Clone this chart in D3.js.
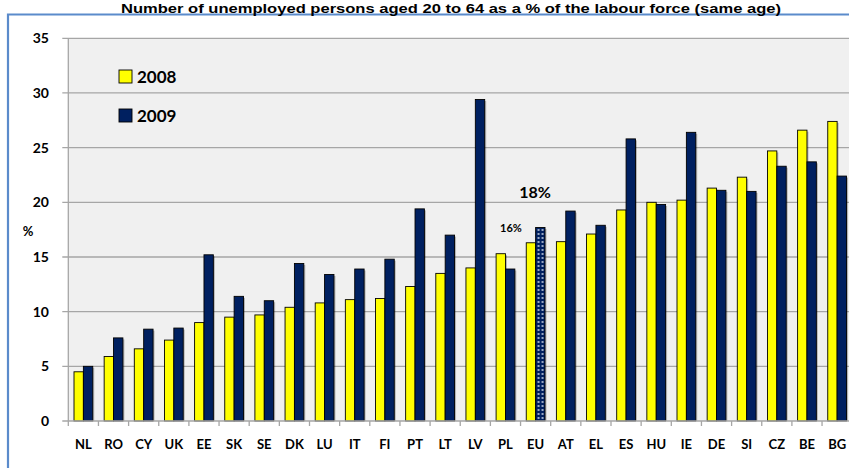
<!DOCTYPE html>
<html lang="en">
<head>
<meta charset="utf-8">
<title>Unemployment 20-64</title>
<style>
  body { margin: 0; background: #fff; }
  text { font-family: Lato, "Open Sans", sans-serif; font-weight: bold; fill: #000; }
  .title { font-family: "Liberation Sans", Arial, sans-serif; }
</style>
</head>
<body>
<div id="chart"></div>
<script src="https://cdn.jsdelivr.net/npm/d3@7"></script>
<script>
// data
var countries = ["NL","RO","CY","UK","EE","SK","SE","DK","LU","IT","FI","PT","LT","LV","PL","EU","AT","EL","ES","HU","IE","DE","SI","CZ","BE","BG"];
var v2008 = [4.5,5.9,6.6,7.4,9.0,9.5,9.7,10.4,10.8,11.1,11.2,12.3,13.5,14.0,15.3,16.3,16.4,17.1,19.3,20.0,20.2,21.3,22.3,24.7,26.6,27.4];
var v2009 = [5.0,7.6,8.4,8.5,15.2,11.4,11.0,14.4,13.4,13.9,14.8,19.4,17.0,29.4,13.9,17.7,19.2,17.9,25.8,19.8,26.4,21.1,21.0,23.3,23.7,22.4];
var years = ["2008","2009"];
var yTicks = [0,5,10,15,20,25,30,35];

var width = 849, height = 468;
var colors = { "2008": "#ffff00", "2009": "#002060" };

var svg = d3.select("#chart").append("svg")
    .attr("width", width)
    .attr("height", height);

var defs = svg.append("defs");
var pat = defs.append("pattern")
    .attr("id", "dots")
    .attr("patternUnits", "userSpaceOnUse")
    .attr("width", 4).attr("height", 4);
pat.append("rect").attr("width", 4).attr("height", 4).attr("fill", "#002060");
pat.append("circle").attr("cx", 2).attr("cy", 2).attr("r", 0.9).attr("fill", "#dfe6f2");

// outer frame
svg.append("path")
    .attr("d", "M8,470 V14.5 H851")
    .attr("fill", "none")
    .attr("stroke", "#5b8bcb")
    .attr("stroke-width", 2.2);

// title
svg.append("text")
    .attr("class", "title")
    .attr("x", 451)
    .attr("y", 12.5)
    .attr("text-anchor", "middle")
    .attr("textLength", 660)
    .attr("lengthAdjust", "spacingAndGlyphs")
    .style("font-size", "13px")
    .text("Number of unemployed persons aged 20 to 64 as a % of the labour force (same age)");

var plotLeft = 68.3, plotTop = 38.3, plotBottom = 421;
var catW = 30.15;

var x = d3.scaleBand()
    .domain(countries)
    .range([plotLeft, plotLeft + countries.length * catW])
    .padding(0);

var x1 = d3.scaleBand()
    .domain(years)
    .range([5.7, catW - 5.7]);

var y = d3.scaleLinear()
    .domain([0, 35])
    .range([plotBottom, plotTop]);

// plot background
svg.append("rect")
    .attr("x", plotLeft).attr("y", plotTop)
    .attr("width", width - plotLeft).attr("height", plotBottom - plotTop)
    .attr("fill", "#f0f0f0");

// gridlines
svg.append("g").selectAll("line")
    .data(yTicks.filter(d => d > 0))
  .enter().append("line")
    .attr("x1", plotLeft - 6).attr("x2", width)
    .attr("y1", d => y(d)).attr("y2", d => y(d))
    .attr("stroke", "#a6a6a6")
    .attr("stroke-width", 1.3);

// y axis line
svg.append("line")
    .attr("x1", plotLeft).attr("x2", plotLeft)
    .attr("y1", plotTop).attr("y2", plotBottom)
    .attr("stroke", "#a6a6a6").attr("stroke-width", 1.3);

// y tick labels
svg.append("g").selectAll("text")
    .data(yTicks)
  .enter().append("text")
    .attr("x", 49)
    .attr("y", d => y(d))
    .attr("dy", "0.36em")
    .attr("text-anchor", "end")
    .style("font-size", "14px")
    .text(d => d);

svg.append("text")
    .attr("x", 28).attr("y", 231)
    .attr("dy", "0.36em")
    .attr("text-anchor", "middle")
    .style("font-size", "13px")
    .text("%");

// bars
var rows = countries.map(function(c, i) {
  return { country: c, values: [
    { year: "2008", value: v2008[i] },
    { year: "2009", value: v2009[i] }
  ]};
});

var groups = svg.append("g").selectAll("g")
    .data(rows)
  .enter().append("g")
    .attr("transform", d => "translate(" + x(d.country) + ",0)");

// soft shadow
groups.selectAll("rect.shadow")
    .data(d => d.values.map(v => Object.assign({ country: d.country }, v)))
  .enter().append("rect")
    .attr("class", "shadow")
    .attr("x", d => x1(d.year) + 1.5)
    .attr("y", d => y(d.value) + 1.5)
    .attr("width", x1.bandwidth())
    .attr("height", d => plotBottom - y(d.value) - 1.5)
    .attr("fill", "#000")
    .attr("opacity", 0.25);

groups.selectAll("rect.bar")
    .data(d => d.values.map(v => Object.assign({ country: d.country }, v)))
  .enter().append("rect")
    .attr("class", "bar")
    .attr("x", d => x1(d.year))
    .attr("y", d => y(d.value))
    .attr("width", x1.bandwidth())
    .attr("height", d => plotBottom - y(d.value))
    .attr("fill", d => (d.country === "EU" && d.year === "2009") ? "url(#dots)" : colors[d.year])
    .attr("stroke", "#000")
    .attr("stroke-width", 0.9);

// x axis line and ticks
svg.append("line")
    .attr("x1", plotLeft - 6).attr("x2", width)
    .attr("y1", plotBottom).attr("y2", plotBottom)
    .attr("stroke", "#a6a6a6").attr("stroke-width", 1.3);

svg.append("g").selectAll("line")
    .data(countries)
  .enter().append("line")
    .attr("x1", d => x(d)).attr("x2", d => x(d))
    .attr("y1", plotBottom).attr("y2", plotBottom + 5)
    .attr("stroke", "#a6a6a6").attr("stroke-width", 1.3);

svg.append("g").selectAll("text")
    .data(countries)
  .enter().append("text")
    .attr("x", d => x(d) + catW / 2)
    .attr("y", 444)
    .attr("dy", "0.36em")
    .attr("text-anchor", "middle")
    .style("font-size", "13px")
    .text(d => d);

// EU annotations
svg.append("text")
    .attr("x", 535).attr("y", 192)
    .attr("dy", "0.36em")
    .attr("text-anchor", "middle")
    .style("font-size", "16px")
    .text("18%");

svg.append("text")
    .attr("x", 511).attr("y", 228)
    .attr("dy", "0.36em")
    .attr("text-anchor", "middle")
    .style("font-size", "11px")
    .text("16%");

// legend
var legend = svg.append("g").selectAll("g")
    .data(years)
  .enter().append("g")
    .attr("transform", (d, i) => "translate(119," + (70 + i * 39) + ")");

legend.append("rect")
    .attr("width", 13).attr("height", 13)
    .attr("fill", d => colors[d])
    .attr("stroke", "#000")
    .attr("stroke-width", 0.9);

legend.append("text")
    .attr("x", 18).attr("y", 6.5)
    .attr("dy", "0.36em")
    .style("font-size", "17px")
    .text(d => d);
</script>
</body>
</html>
